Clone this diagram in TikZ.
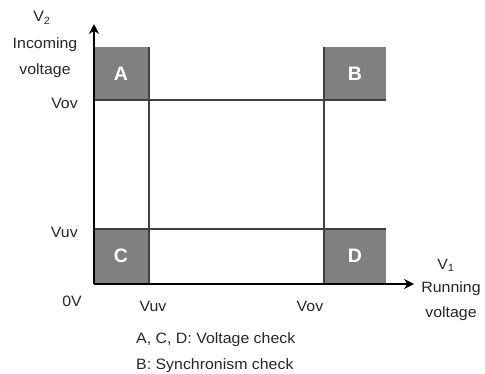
\documentclass[tikz,border=0pt]{standalone}
\usepackage{fontspec}
\setmainfont{Liberation Sans}
\usetikzlibrary{arrows.meta}
\begin{document}
\begin{tikzpicture}[x=1pt,y=-1pt,
  lbl/.style={font=\fontsize{15}{17}\selectfont, inner sep=0pt, text=black!85, xscale=1.06, transform shape},
  zone/.style={fill=black!50, draw=none},
  zletter/.style={font=\fontsize{19.5}{21}\selectfont\bfseries, text=white, inner sep=0pt},
  grid/.style={draw=black!75, line width=1.3pt},
  axis/.style={line width=2.4pt, -{Stealth[length=10pt,width=10pt]}}]
\useasboundingbox (0,0) rectangle (485,373);
% zones
\fill[zone] (94,47) rectangle (149,100);
\fill[zone] (324,47) rectangle (386,100);
\fill[zone] (94,229) rectangle (149,284);
\fill[zone] (324,229) rectangle (386,284);
\node[zletter] (A) at (121,74) {A};
\node[zletter] (B) at (355,74) {B};
\node[zletter] (C) at (121,256) {C};
\node[zletter] (D) at (355,256) {D};
% grid lines
\coordinate (h1l) at (94,100); \coordinate (h1r) at (386,100);
\coordinate (h2l) at (94,229); \coordinate (h2r) at (386,229);
\coordinate (v1t) at (149,47); \coordinate (v1b) at (149,284);
\coordinate (v2t) at (324,47); \coordinate (v2b) at (324,284);
\draw[grid] (h1l) -- (h1r);
\draw[grid] (h2l) -- (h2r);
\draw[grid] (v1t) -- (v1b);
\draw[grid] (v2t) -- (v2b);
% axes
\coordinate (O) at (94,284);
\coordinate (Ytip) at (94,24);
\coordinate (Xtip) at (414,284);
\draw[axis] (O) -- (Ytip);
\draw[axis] (O) -- (Xtip);
% labels
\node[lbl] (v2) at (42,18) {V\textsubscript{2}};
\node[lbl] (inc) at (45,45) {Incoming};
\node[lbl] (incv) at (45,71) {voltage};
\node[lbl, anchor=east] (yov) at (78,103) {Vov};
\node[lbl, anchor=east] (yuv) at (78,232) {Vuv};
\node[lbl] (zero) at (72,301) {0V};
\node[lbl] (xuv) at (153,306) {Vuv};
\node[lbl] (xov) at (310,306) {Vov};
\node[lbl] (v1) at (446,265) {V\textsubscript{1}};
\node[lbl] (run) at (451,289) {Running};
\node[lbl] (runv) at (451,314) {voltage};
\node[lbl, anchor=west] (n1) at (136,340) {A, C, D: Voltage check};
\node[lbl, anchor=west] (n2) at (136,366) {B: Synchronism check};
\end{tikzpicture}
\end{document}
